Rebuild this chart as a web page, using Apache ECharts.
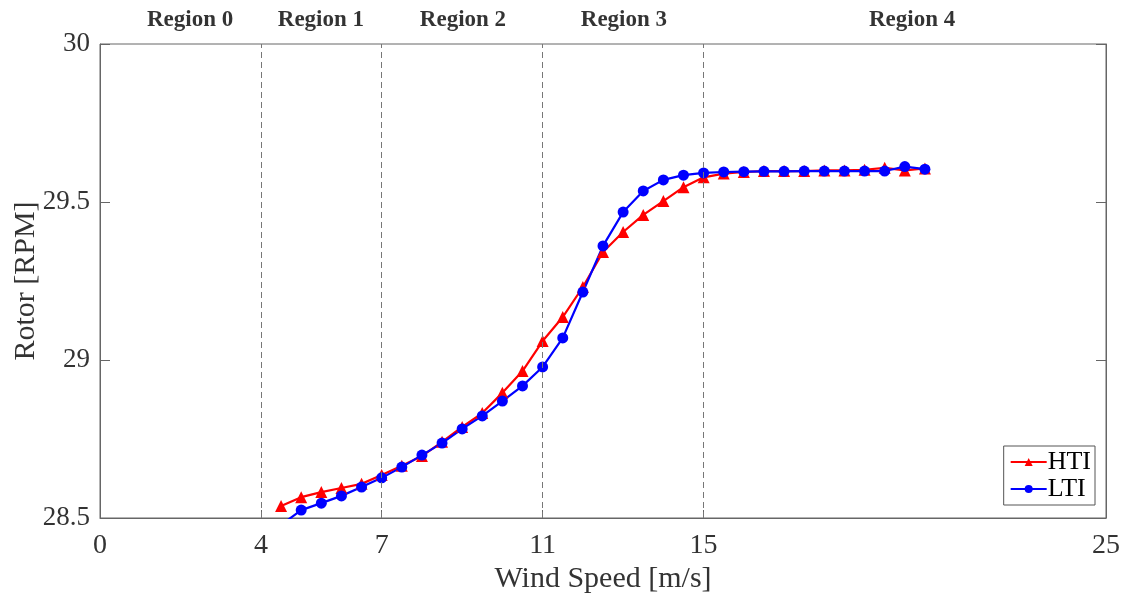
<!DOCTYPE html>
<html>
<head>
<meta charset="utf-8">
<script src="https://cdn.jsdelivr.net/npm/echarts@6/dist/echarts.min.js"></script>
<style>html,body{margin:0;padding:0;background:#fff}#c{width:1132px;height:600px}</style>
</head>
<body>
<div id="c"></div>
<script>
var windSpeed = [4.5,5,5.5,6,6.5,7,7.5,8,8.5,9,9.5,10,10.5,11,11.5,12,12.5,13,13.5,14,14.5,15,15.5,16,16.5,17,17.5,18,18.5,19,19.5,20,20.5];
var htiRpm = [28.538,28.566,28.582,28.595,28.608,28.636,28.665,28.696,28.741,28.788,28.832,28.896,28.965,29.060,29.136,29.231,29.342,29.405,29.459,29.503,29.547,29.578,29.590,29.595,29.598,29.598,29.598,29.600,29.600,29.602,29.608,29.600,29.606];
var ltiRpm = [28.478,28.525,28.547,28.570,28.598,28.627,28.661,28.699,28.737,28.782,28.823,28.870,28.918,28.978,29.070,29.215,29.361,29.468,29.535,29.570,29.585,29.592,29.595,29.596,29.597,29.597,29.598,29.598,29.598,29.598,29.598,29.612,29.604];
var xTicks = [0,4,7,11,15,25];
var regionBounds = [4,7,11,15];
var regionNames = ['Region 0','Region 1','Region 2','Region 3','Region 4'];
var regionCenters = [2.24,5.49,9.02,13.02,20.18];

function zip(xs, ys){ return xs.map(function(x,i){ return [x, ys[i]]; }); }

var serif = '"Liberation Serif", "Times New Roman", serif';
var chart = echarts.init(document.getElementById('c'));
chart.setOption({
  animation: false,
  grid: {left: 100, right: 26, top: 44, bottom: 82, show: true, borderColor: '#666', borderWidth: 1, outerBoundsMode: 'none', containLabel: false},
  legend: {
    right: 37, bottom: 95, orient: 'vertical',
    data: ['HTI','LTI'],
    backgroundColor: '#fff', borderColor: '#555', borderWidth: 1,
    padding: [3,4,3,6], itemGap: 1, itemWidth: 36, itemHeight: 10,
    textStyle: {fontFamily: serif, fontSize: 26, color: '#000', padding: [0,0,0,-4]}
  },
  xAxis: {
    type: 'value', min: 0, max: 25,
    name: 'Wind Speed [m/s]', nameLocation: 'middle', nameGap: 46, nameMoveOverlap: false,
    nameTextStyle: {fontFamily: serif, fontSize: 30, color: '#333'},
    axisLine: {show: true, lineStyle: {color: '#666'}},
    axisTick: {show: true, inside: true, length: 8, customValues: xTicks, lineStyle: {color: '#666'}},
    axisLabel: {customValues: xTicks, fontFamily: serif, fontSize: 28, color: '#333', margin: 14},
    splitLine: {show: false}
  },
  yAxis: [{
    type: 'value', min: 28.5, max: 30, interval: 0.5,
    name: 'Rotor [RPM]', nameLocation: 'middle', nameGap: 59, nameMoveOverlap: false,
    nameTextStyle: {fontFamily: serif, fontSize: 30, color: '#333'},
    axisLine: {show: true, lineStyle: {color: '#666'}},
    axisTick: {show: true, inside: true, length: 10, lineStyle: {color: '#666'}},
    axisLabel: {fontFamily: serif, fontSize: 27, color: '#333', margin: 10},
    splitLine: {show: false}
  },{
    type: 'value', min: 28.5, max: 30, interval: 0.5, position: 'right',
    axisLine: {show: true, lineStyle: {color: '#666'}},
    axisTick: {show: true, inside: true, length: 10, lineStyle: {color: '#666'}},
    axisLabel: {show: false}, splitLine: {show: false}
  }],
  series: [{
    name: 'HTI', type: 'line', data: zip(windSpeed, htiRpm),
    color: '#ff0000', symbol: 'triangle', symbolSize: 12,
    lineStyle: {width: 2.2, color: '#ff0000'}, itemStyle: {color: '#ff0000'},
    markLine: {
      silent: true, symbol: 'none', label: {show: false},
      lineStyle: {type: [6,4], color: '#777', width: 1},
      data: regionBounds.map(function(v){ return {xAxis: v}; })
    }
  },{
    name: 'LTI', type: 'line', data: zip(windSpeed, ltiRpm),
    color: '#0000ff', symbol: 'circle', symbolSize: 11,
    lineStyle: {width: 2.2, color: '#0000ff'}, itemStyle: {color: '#0000ff'}
  },{
    name: 'regions', type: 'scatter', clip: false, silent: true,
    symbolSize: 0,
    data: regionCenters.map(function(x,i){ return {value: [x, 30], name: regionNames[i]}; }),
    label: {show: true, position: 'top', distance: 12, formatter: '{b}',
      fontFamily: serif, fontSize: 23, fontWeight: 'bold', color: '#000'}
  }]
});
</script>
</body>
</html>
